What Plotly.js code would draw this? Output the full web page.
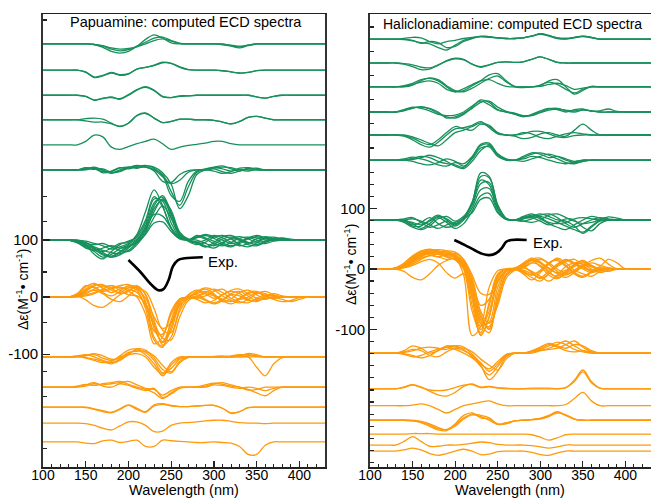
<!DOCTYPE html>
<html><head><meta charset="utf-8">
<script src="https://cdn.plot.ly/plotly-3.0.1.min.js"></script>
<style>html,body{margin:0;padding:0;background:#fff}#c{width:651px;height:499px}</style>
</head><body><div id="c"></div>
<script>
// wavelength grid (nm)
const WL = [100,110,120,130,140,150,160,170,180,190,200,210,220,230,240,250,260,270,280,290,300,310,320,330,340,350,360,370,380,390,400,410,420,430];

// ---------- Papuamine (left) ----------
// stacking offsets of each bundle (Δε units)
const papGreenOffsets  = [444, 398, 354, 311, 267, 223, 100];
const papOrangeOffsets = [0, -105, -158, -193, -221, -254];

const papG1 = [
 [0,0,0,0,0, 0,-1,-6,-13,-16, -13,-4,8,16,10, 2,0,0,0,0, 0,-1,-4,-7,-3, 0,0,0,0,0, 0,0,0,0],
 [0,0,0,0,0, 0,-1,-3,-7,-9, -8,-5,0,6,9, 5,1,0,0,0, 0,0,-3,-5,-2, 0,0,0,0,0, 0,0,0,0],
 [0,0,0,0,0, 0,-1,-4,-9,-12, -10,-4,3,10,12, 6,1,0,0,0, 0,-1,-2,-4,-2, 0,0,0,0,0, 0,0,0,0]];
const papG2 = [
 [0,0,0,0,0, -4,-13,-10,-5,-9, -7,2,5,8,13, 12,6,1,0,0, 0,-1,-3,-5,-4, -1,0,0,0,0, 0,0,0,0],
 [0,0,0,0,0, -3,-12,-9,-4,-8, -6,2,5,9,14, 12,5,1,0,0, 0,-1,-3,-5,-4, -1,0,0,0,0, 0,0,0,0]];
const papG3 = [
 [0,0,0,0,0, -2,-9,-5,-4,-6, 1,10,14,8,-3, -4,-1,-1,0,0, 0,0,0,0,0, -3,-5,-2,0,0, 0,0,0,0],
 [0,0,0,0,0, -2,-8,-6,-3,-7, 0,9,15,9,-2, -4,-2,-1,0,0, 0,0,0,0,0, -3,-5,-2,0,0, 0,0,0,0]];
const papG4 = [
 [0,0,0,0,0, 2,3,1,-6,-12, -6,8,12,3,-5, -3,1,1,0,0, -1,-4,-7,-3,4, 6,3,0,0,0, 0,0,0,0],
 [0,0,0,0,0, -2,-4,-4,-7,-11, -6,7,11,3,-5, -3,1,1,0,0, -1,-4,-7,-3,4, 6,3,0,0,0, 0,0,0,0]];
const papG5 = [
 [0,0,0,0,0, 6,17,14,-4,-8, -3,2,6,10,2, -8,-4,-1,1,3, 6,6,2,0,0, 0,0,0,0,0, 0,0,0,0]];
const papG6 = [
 [0,0,0,0,0, 2,5,0,-5,0, 5,3,7,5,-5, -25,-68,-45,-8,0, 3,5,4,0,-2, 1,0,0,0,0, 0,0,0,0],
 [0,0,0,0,0, 4,2,-3,-2,4, 2,6,8,3,-10, -45,-55,-20,-2,2, 5,7,2,-2,3, 0,0,0,0,0, 0,0,0,0],
 [0,0,0,0,0, 0,3,-5,-3,3, 5,4,5,0,-12, -24,-18,-4,0,0, 2,-3,-6,-2,2, 3,0,0,0,0, 0,0,0,0],
 [0,0,0,0,0, 1,4,-1,-6,-2, 3,7,6,-2,-20, -22,-8,-1,0,0, -2,-6,-3,3,4, 1,0,0,0,0, 0,0,0,0],
 [0,0,0,0,0, 3,1,2,-4,-3, 4,8,5,1,-8, -38,-62,-30,-4,1, 4,2,-2,1,0, 0,0,0,0,0, 0,0,0,0]];
const papG7 = [
 [0,0,0,0,-3, -10,-20,-30,-25,-15, -8,10,50,88,60, 20,3,0,-5,-12, -8,2,5,0,-5, -2,4,2,0,0, 0,0,0,0],
 [0,0,0,0,-2, -8,-15,-22,-28,-20, -10,0,25,65,75, 40,8,0,4,8, 3,-5,-10,-6,2, 6,2,0,0,0, 0,0,0,0],
 [0,0,0,0,-5, -12,-18,-14,-10,-14, -12,-4,15,55,70, 45,10,-2,-8,-4, 5,8,2,-8,-12, -5,3,5,1,0, 0,0,0,0],
 [0,0,0,0,0, -4,-12,-18,-22,-24, -18,-5,10,30,32, 15,2,0,6,2, -6,-10,-4,3,5, 0,-3,0,0,0, 0,0,0,0],
 [0,0,0,0,-3, -9,-25,-33,-20,-8, -2,5,30,72,68, 30,5,0,-3,-10, -14,-6,3,6,2, -4,-6,-2,0,0, 0,0,0,0],
 [0,0,0,0,0, -2,-6,-10,-16,-12, -6,2,20,45,42, 20,4,0,5,10, 6,0,-6,-3,4, 8,4,0,0,0, 0,0,0,0],
 [0,0,0,0,-4, -14,-18,-24,-30,-26, -14,0,22,60,78, 48,12,0,-4,0, 8,4,-4,-10,-6, 2,6,3,0,0, 0,0,0,0],
 [0,0,0,0,-2, -6,-8,-6,-12,-18, -20,-8,12,40,60, 38,8,-2,-6,-12, -4,6,8,2,-4, -8,-2,2,3,1, 0,0,0,0],
 [0,0,0,0,-1, -5,-14,-20,-14,-6, -4,8,35,76,58, 22,4,0,8,4, -2,-8,-12,-4,4, 4,0,0,0,0, 0,0,0,0],
 [0,0,0,0,-3, -10,-16,-26,-30,-22, -12,-2,18,50,72, 52,14,2,0,-6, -10,-4,2,0,-8, -10,-4,2,4,1, 0,0,0,0]];

const papO1 = [
 [0,0,0,0,5, 18,24,15,8,14, 18,12,-20,-75,-88, -40,-5,0,8,14, 6,-8,-3,8,12, 4,-3,0,0,0, 0,0,0,0],
 [0,0,0,0,3, 10,20,22,12,8, 16,20,5,-40,-84, -70,-20,2,4,-4, -10,-4,6,10,2, -6,-2,0,0,0, 0,0,0,0],
 [0,0,0,0,2, -5,-15,-18,-8,4, 12,18,-10,-60,-65, -30,-4,0,-4,-10, -6,4,10,6,-4, -8,0,3,0,0, 0,0,0,0],
 [0,0,0,0,6, 20,16,10,14,18, 10,0,-30,-82,-70, -25,-3,0,10,16, 12,2,-6,-10,-4, 6,10,4,0,0, 0,0,0,0],
 [0,0,0,0,2, 8,12,6,-4,-8, 2,14,10,-20,-58, -62,-25,-3,0,6, 2,-6,-12,-4,6, 8,2,-4,-8,-6, -1,0,0,0],
 [0,0,0,0,4, 14,22,18,20,16, 14,8,-15,-50,-80, -58,-12,4,12,6, -2,4,12,14,6, -2,-4,0,0,0, 0,0,0,0],
 [0,0,0,0,1, 4,8,12,16,20, 22,15,-2,-35,-55, -45,-15,-2,2,8, 14,8,-2,-8,-10, -2,4,2,0,0, 0,0,0,0],
 [0,0,0,0,3, 12,18,8,2,10, 20,16,-8,-70,-86, -52,-10,0,-2,2, 10,14,4,-4,0, 8,6,0,-4,-8, -4,0,0,0],
 [0,0,0,0,0, 2,6,14,20,12, 4,2,-12,-45,-72, -75,-35,-6,0,-6, -12,-6,4,2,-6, -4,2,6,2,0, 0,0,0,0],
 [0,0,0,0,2, 6,14,20,16,6, 10,18,4,-55,-78, -45,-8,0,6,10, 4,-4,-8,-2,8, 10,2,-2,0,0, 0,0,0,0]];
const papO2 = [
 [0,0,0,0,1, -2,-6,-10,-8,2, 12,14,8,-6,-28, -20,-4,0,0,0, 0,0,0,0,0, -18,-33,-12,-1,0, 0,0,0,0],
 [0,0,0,0,2, 4,0,-6,-10,-4, 6,12,4,-12,-33, -14,-2,0,0,0, 1,2,0,2,6, 4,0,0,0,0, 0,0,0,0],
 [0,0,0,0,0, 3,6,2,-4,-2, 8,10,10,2,-15, -26,-8,0,0,0, 0,0,0,3,4, 2,0,0,0,0, 0,0,0,0],
 [0,0,0,0,1, -1,-4,-8,-12,-6, 4,14,12,-2,-22, -28,-10,-1,0,0, 0,0,0,0,0, 0,0,0,0,0, 0,0,0,0],
 [0,0,0,0,0, 2,4,-2,-6,0, 4,6,0,-18,-30, -10,0,0,0,0, 0,0,2,4,3, 1,0,0,0,0, 0,0,0,0]];
const papO3 = [
 [0,0,0,0,2, 5,3,6,8,10, 5,0,-4,-10,-20, -10,-1,0,1,4, 7,5,2,0,-4, -10,-15,-6,0,0, 0,0,0,0],
 [0,0,0,0,0, 2,6,4,6,8, 10,4,-2,-4,-14, -6,0,0,0,2, 6,8,4,0,-5, -4,0,0,0,0, 0,0,0,0],
 [0,0,0,0,1, 4,8,2,0,6, 3,-2,-6,-2,-18, -12,-2,0,0,0, 4,3,0,-2,0, -2,-6,-2,0,0, 0,0,0,0]];
const papO4 = [
 [0,0,0,0,0, -1,-4,-8,-10,-4, 3,-4,-9,2,5, 2,1,1,2,3, 3,-2,-11,-8,-1, 0,0,0,0,0, 0,0,0,0],
 [0,0,0,0,0, 0,-3,-6,-9,-3, 4,-2,-8,4,6, 3,1,1,2,3, 3,-2,-10,-8,-1, 0,0,0,0,0, 0,0,0,0]];
const papO5 = [
 [0,0,0,0,0, -1,-4,-9,-12,-5, 2,2,-4,-15,-14, -4,0,1,2,4, 5,5,3,1,0, 0,-1,0,0,0, 0,0,0,0]];
const papO6 = [
 [0,0,0,0,0, -2,-3,2,3,-1, 1,3,-8,-8,3, 2,1,0,-1,-1, 0,-1,-2,-8,-22, -22,-6,0,0,0, 0,0,0,0]];

const papExpWL = [200,214,226,235,241,247,252,258,266,287];
const papExpY  = [65,44,23,12,14,30,54,65,68,70];

// ---------- Haliclonadiamine (right) ----------
const halGreenOffsets  = [380, 340.5, 301, 259.5, 221.5, 180, 81];
const halOrangeOffsets = [0, -139, -198, -226, -250, -273, -291, -301];

const halG1 = [
 [0,0,0,0,-1, -3,-6,-8,-14,-18, -10,-2,2,5,4, 2,1,1,2,5, 9,6,2,1,3, 5,3,0,0,0, 0,0,0,0],
 [0,0,0,0,1, 3,2,-4,-8,-4, -2,1,3,4,3, 2,1,1,2,5, 8,5,1,0,2, 4,2,0,0,0, 0,0,0,0],
 [0,0,0,0,0, -2,-7,-4,-6,-14, -12,-4,1,4,4, 2,1,1,2,5, 9,6,2,1,3, 5,3,0,0,0, 0,0,0,0]];
const halG2 = [
 [0,0,0,0,-2, -6,-11,-10,-4,4, 8,6,-2,-7,-3, 1,2,1,2,6, 10,6,1,0,0, 0,0,0,0,0, 0,0,0,0],
 [0,0,0,0,-1, -3,-7,-8,-3,3, 7,5,-2,-6,-3, 1,2,1,2,6, 10,6,1,0,0, 0,0,0,0,0, 0,0,0,0]];
const halG3 = [
 [0,0,0,0,2, 6,12,14,10,0, -8,-6,2,10,20, 22,10,0,-1,0, 2,10,12,0,-12, -6,1,0,0,0, 0,0,0,0],
 [0,0,0,0,1, 4,8,10,6,-4, -8,-3,4,10,12, 6,1,0,0,0, 1,4,6,2,-4, -2,0,0,0,0, 0,0,0,0],
 [0,0,0,0,0, 3,10,15,12,2, -6,-8,-2,6,14, 18,8,1,0,0, 3,8,4,-4,-10, -4,0,0,0,0, 0,0,0,0]];
const halG4 = [
 [0,0,0,0,3, 7,8,5,-2,-8, -10,-4,8,20,16, 4,0,-4,-8,-4, 2,6,4,0,4, 5,1,2,5,1, 0,0,0,0],
 [0,0,0,0,4, 8,6,2,-4,-6, -5,0,10,18,12, 3,0,-2,-6,-5, 0,5,6,2,0, 3,2,0,0,0, 0,0,0,0],
 [0,0,0,0,2, 6,9,6,0,-10, -8,-2,6,16,18, 8,1,-3,-7,-6, -1,3,5,3,2, 4,2,0,0,0, 0,0,0,0]];
const halG5 = [
 [0,0,0,0,-2, -8,-16,-20,-12,0, 10,12,16,22,12, 2,0,-2,-6,-4, 2,4,0,-2,8, 18,8,0,0,0, 0,0,0,0],
 [0,0,0,0,-1, -5,-12,-16,-8,4, 14,10,8,18,14, 3,0,0,2,6, 6,2,-3,-4,-1, 0,0,0,0,0, 0,0,0,0],
 [0,0,0,0,0, -3,-8,-14,-18,-8, 4,8,14,20,16, 4,0,0,4,2, -4,-6,-2,2,4, 2,0,0,0,0, 0,0,0,0]];
const halG6 = [
 [0,0,0,0,0, 3,6,4,-2,-6, -8,-12,4,24,26, 8,0,0,4,10, 12,8,2,-4,-6, -2,0,0,0,0, 0,0,0,0],
 [0,0,0,0,0, -2,-6,-8,-4,2, -2,-10,2,20,22, 6,0,0,2,6, 4,0,-4,-6,-3, 0,0,0,0,0, 0,0,0,0],
 [0,0,0,0,2, 5,2,-2,-8,-10, -4,-6,6,26,28, 10,1,0,6,12, 10,4,6,2,-2, 0,0,0,0,0, 0,0,0,0],
 [0,0,0,0,0, 1,4,8,4,-2, -10,-14,-2,16,24, 10,2,0,-2,2, 6,10,6,0,-4, -2,0,0,0,0, 0,0,0,0]];
const halG7 = [
 [0,0,0,0,-2, -8,-4,4,-6,-12, -8,4,30,72,70, 25,3,0,4,8, 6,2,-4,-10,-16, -20,-10,0,5,3, 0,0,0,0],
 [0,0,0,0,-4, -12,-16,-10,2,6, -2,6,25,60,62, 22,2,0,6,10, 4,-4,-6,-4,2, 4,2,0,0,0, 0,0,0,0],
 [0,0,0,0,2, 4,-4,-12,-8,-2, -10,0,20,50,52, 18,2,0,-2,2, 8,10,4,-6,-12, -6,0,4,2,0, 0,0,0,0],
 [0,0,0,0,0, -6,-14,-6,4,-4, -14,-6,15,40,44, 14,1,0,2,6, 2,-6,-12,-16,-8, 0,6,3,0,0, 0,0,0,0],
 [0,0,0,0,-1, -4,-8,-2,6,2, -6,2,28,78,72, 24,2,0,4,6, 10,6,0,-2,-10, -22,-12,-2,0,0, 0,0,0,0],
 [0,0,0,0,0, 2,-2,-8,-14,-8, -4,2,12,34,36, 12,1,0,-2,-4, 0,8,10,4,-2, -6,-4,0,0,0, 0,0,0,0],
 [0,0,0,0,-2, -10,-10,0,8,0, -8,4,26,66,58, 20,2,0,2,4, -2,-8,-4,2,0, -12,-18,-6,0,0, 0,0,0,0]];

const halO1 = [
 [0,0,0,2,10, 22,30,33,30,28, 24,10,-40,-110,-80, -20,-2,0,-8,-18, -6,10,16,6,-6, -12,-4,2,0,0, 0,0,0,0],
 [0,0,0,1,6, 16,26,30,28,26, 18,-10,-110,-95,-30, -3,0,2,8,16, 10,-4,-14,-8,4, 10,6,0,0,0, 0,0,0,0],
 [0,0,0,0,4, 12,22,28,26,20, 15,0,-30,-80,-100, -50,-8,0,4,-6, -16,-8,6,14,8, 0,-6,-2,0,0, 0,0,0,0],
 [0,0,0,0,-4, -14,-18,-8,6,14, 18,8,-20,-60,-50, -12,0,0,-6,-14, -20,-8,4,12,16, 6,-4,-2,0,0, 0,0,0,0],
 [0,0,0,2,8, 20,28,24,20,24, 26,14,-15,-70,-90, -60,-15,-2,2,10, 16,10,0,-8,-4, 6,14,18,8,0, 0,0,0,0],
 [0,0,0,0,2, 6,12,16,10,-6, -15,-8,-35,-90,-105, -40,-4,0,6,14, 4,-10,-16,-6,8, 14,6,-2,-4,0, 0,0,0,0],
 [0,0,0,1,6, 18,26,32,30,22, 20,6,-50,-100,-60, -10,0,0,-4,-10, -4,8,18,10,-2, -8,-12,-4,0,0, 0,0,0,0],
 [0,0,0,0,3, 10,20,26,28,30, 28,16,-10,-40,-42, -20,-4,0,6,14, 10,2,-8,-14,-6, 4,10,6,2,0, 0,0,0,0],
 [0,0,0,1,5, 14,24,30,32,30, 22,2,-60,-108,-78, -22,-2,0,2,-4, -12,-20,-10,4,10, 8,0,-6,-2,0, 0,0,0,0],
 [0,0,0,0,4, 12,18,22,20,16, 18,12,-25,-85,-95, -48,-10,0,10,18, 12,0,-6,-2,6, 4,-2,4,16,10, 0,0,0,0],
 [0,0,0,1,7, 18,28,31,29,26, 20,0,-70,-105,-55, -8,0,1,4,10, 6,-6,-12,-4,6, 12,4,-2,0,0, 0,0,0,0],
 [0,0,0,0,5, 14,22,26,24,22, 20,8,-30,-90,-88, -30,-3,0,-2,-8, -14,-4,8,16,10, 2,-2,0,0,0, 0,0,0,0],
 [0,0,0,1,6, 16,24,28,26,24, 22,10,-20,-75,-98, -55,-10,0,8,16, 18,8,-4,-10,-2, 6,4,0,0,0, 0,0,0,0],
 [0,0,0,0,3, 8,16,22,24,20, 16,4,-45,-95,-70, -15,0,0,-4,-10, -2,10,14,4,-8, -14,-6,0,2,0, 0,0,0,0]];
const halO2 = [
 [0,0,0,0,2, 6,4,-4,-6,2, 8,4,-4,-20,-44, -30,-6,0,0,2, 6,12,18,14,6, 2,0,0,0,0, 0,0,0,0],
 [0,0,0,0,-2, -6,-4,2,6,10, 6,0,-8,-18,-26, -14,-2,0,0,4, 10,16,12,8,14, 12,4,0,0,0, 0,0,0,0],
 [0,0,0,0,4, 12,8,0,4,12, 10,8,2,-10,-20, -28,-10,0,0,0, 4,8,14,20,12, 4,0,0,0,0, 0,0,0,0],
 [0,0,0,0,1, 4,8,10,8,6, 12,10,-2,-16,-30, -18,-3,0,0,2, 4,6,8,14,20, 10,2,0,0,0, 0,0,0,0],
 [0,0,0,0,-1, -4,-8,-4,4,10, 12,6,-6,-22,-36, -22,-4,0,0,3, 8,14,10,4,2, 4,2,0,0,0, 0,0,0,0]];
const halO3 = [
 [0,0,0,0,3, 7,3,-4,-10,-12, -6,4,8,3,4, 2,1,0,0,1, 1,1,0,2,14, 31,12,1,0,0, 0,0,0,0],
 [0,0,0,0,2, 6,2,-2,-3,-2, 2,6,7,2,3, 1,0,0,0,0, 0,0,0,2,12, 28,10,1,0,0, 0,0,0,0]];
const halO4 = [
 [0,0,0,0,0, 1,3,0,-6,-12, -6,0,3,6,8, 3,0,0,0,0, 0,0,0,2,12, 22,8,0,0,0, 0,0,0,0]];
const halO5 = [
 [0,0,0,0,0, -1,-4,-10,-16,-17, -6,8,12,4,2, -7,-5,-1,0,1, 3,8,14,8,2, 0,0,0,0,0, 0,0,0,0],
 [0,0,0,0,0, -1,-3,-8,-14,-15, -8,4,10,8,4, -6,-6,-1,0,1, 3,7,12,9,2, 0,0,0,0,0, 0,0,0,0],
 [0,0,0,0,0, 0,-2,-6,-12,-16, -10,2,9,6,0, -7,-4,-1,0,1, 2,6,13,8,2, 0,0,0,0,0, 0,0,0,0]];
const halO6 = [
 [0,0,0,0,0, 1,1,1,0,0, 0,0,0,0,0, 0,0,0,0,-1, -5,-10,-6,-1,0, 0,0,0,0,0, 0,0,0,0]];
const halO7 = [
 [0,0,0,0,6, 14,6,-2,-2,0, 0,1,3,5,4, 1,0,0,0,-1, -3,-5,-3,0,0, 0,0,0,0,0, 0,0,0,0]];
const halO8 = [
 [0,0,0,0,2, 5,2,-4,-7,-4, 0,3,0,-6,-5, -1,0,0,0,-2, -6,-7,-3,0,0, 0,0,0,0,0, 0,0,0,0]];

const halExpWL = [199,211,223,232,240,248,255,260,266,284];
const halExpY  = [48,40,31,25,23,26,35,45,48,48];

// tick values
const xMajor = [100,150,200,250,300,350,400];
const papYMajor = [100,0,-100];
const papYMinor = [486,177,133,44,-44,-131,-175,-265];
const halYMajor = [100,0,-100];
const halYMinor = [400,360,320,280,240,200,160,140,120,80,60,40,20,-20,-40,-60,-80,-120,-140,-160,-180,-200,-220,-240,-260,-280,-300,-320];

// ---------- styles ----------
const GREEN = '#17905b';
const ORANGE = '#ff9a0a';
const FONT = 'Liberation Sans, Arial, Helvetica, sans-serif';

const traces = [];
function addGroup(curves, offset, color, xa, ya) {
  curves.forEach(c => {
    traces.push({
      type: 'scatter', mode: 'lines', x: WL, y: c.map(d => offset + d),
      xaxis: xa, yaxis: ya, hoverinfo: 'skip', showlegend: false,
      line: {color: color, width: 1.3, shape: 'spline', smoothing: 1}
    });
  });
}
[papG1, papG2, papG3, papG4, papG5, papG6, papG7].forEach((g, i) => addGroup(g, papGreenOffsets[i], GREEN, 'x', 'y'));
[papO1, papO2, papO3, papO4, papO5, papO6].forEach((g, i) => addGroup(g, papOrangeOffsets[i], ORANGE, 'x', 'y'));
[halG1, halG2, halG3, halG4, halG5, halG6, halG7].forEach((g, i) => addGroup(g, halGreenOffsets[i], GREEN, 'x2', 'y2'));
[halO1, halO2, halO3, halO4, halO5, halO6, halO7, halO8].forEach((g, i) => addGroup(g, halOrangeOffsets[i], ORANGE, 'x2', 'y2'));

traces.push({type:'scatter', mode:'lines', x: papExpWL, y: papExpY, xaxis:'x', yaxis:'y', showlegend:false, hoverinfo:'skip',
  line:{color:'#000', width:2.6, shape:'spline', smoothing:1}});
traces.push({type:'scatter', mode:'lines', x: halExpWL, y: halExpY, xaxis:'x2', yaxis:'y2', showlegend:false, hoverinfo:'skip',
  line:{color:'#000', width:2.6, shape:'spline', smoothing:1}});

const xCommon = {
  range:[100,430], tickmode:'array', tickvals:xMajor, ticktext:xMajor.map(String),
  ticks:'inside', ticklen:6, tickwidth:1.2, tickcolor:'#222', ticklabelstandoff:-5,
  minor:{dtick:10, tick0:100, ticks:'inside', ticklen:3, tickwidth:1, tickcolor:'#222'},
  showline:true, mirror:true, linecolor:'#222', linewidth:1.5,
  showgrid:false, zeroline:false, tickfont:{family:FONT, size:14, color:'#000'}
};
const yCommon = {
  domain:[0,1], tickmode:'array', ticks:'inside', ticklen:7, tickwidth:1.2, tickcolor:'#222',
  showline:true, mirror:true, linecolor:'#333', linewidth:1.8,
  showgrid:false, zeroline:false, tickfont:{family:FONT, size:15, color:'#000'}
};
const layout = {
  width:651, height:499, margin:{l:0, r:0, t:14, b:32},
  paper_bgcolor:'#fff', plot_bgcolor:'#fff', showlegend:false,
  xaxis: Object.assign({}, xCommon, {domain:[43/651, 325/651], anchor:'y'}),
  xaxis2: Object.assign({}, xCommon, {domain:[370/651, 1], anchor:'y2'}),
  yaxis: Object.assign({}, yCommon, {anchor:'x', range:[-298, 496.5],
    tickvals:papYMajor, ticktext:papYMajor.map(String),
    minor:{tickmode:'array', tickvals:papYMinor, ticks:'inside', ticklen:4, tickcolor:'#222'}}),
  yaxis2: Object.assign({}, yCommon, {anchor:'x2', range:[-327.3, 421.5],
    tickvals:halYMajor, ticktext:halYMajor.map(String),
    minor:{tickmode:'array', tickvals:halYMinor, ticks:'inside', ticklen:4, tickcolor:'#222'}}),
  annotations: [
    {text:'Papuamine: computed ECD spectra', xref:'paper', yref:'paper', x:186/651, y:1-(22-14)/453, xanchor:'center', yanchor:'middle',
      showarrow:false, font:{family:FONT, size:14.5, color:'#000'}},
    {text:'Haliclonadiamine: computed ECD spectra', xref:'paper', yref:'paper', x:381/651, y:1-(24-14)/453, xanchor:'left', yanchor:'middle',
      showarrow:false, font:{family:FONT, size:14, color:'#000'}},
    {text:'Wavelength (nm)', xref:'paper', yref:'paper', x:184/651, y:-(490-467)/453, xanchor:'center', yanchor:'middle',
      showarrow:false, font:{family:FONT, size:14.5, color:'#000'}},
    {text:'Wavelength (nm)', xref:'paper', yref:'paper', x:510/651, y:-(490-467)/453, xanchor:'center', yanchor:'middle',
      showarrow:false, font:{family:FONT, size:14.5, color:'#000'}},
    {text:'Δε(M<sup>-1</sup>• cm<sup>-1</sup>)', xref:'paper', yref:'paper', x:22/651, y:1-(290-14)/453, xanchor:'center', yanchor:'middle',
      textangle:-90, showarrow:false, font:{family:FONT, size:14, color:'#000'}},
    {text:'Δε(M<sup>-1</sup>• cm<sup>-1</sup>)', xref:'paper', yref:'paper', x:350/651, y:1-(265-14)/453, xanchor:'center', yanchor:'middle',
      textangle:-90, showarrow:false, font:{family:FONT, size:14, color:'#000'}},
    {text:'Exp.', xref:'x', yref:'y', x:291, y:62, xanchor:'left', yanchor:'middle', showarrow:false,
      font:{family:FONT, size:15, color:'#000'}},
    {text:'Exp.', xref:'x2', yref:'y2', x:289, y:44, xanchor:'left', yanchor:'middle', showarrow:false,
      font:{family:FONT, size:15, color:'#000'}}
  ]
};
Plotly.newPlot('c', traces, layout, {staticPlot:true, displayModeBar:false});
</script>
</body></html>
